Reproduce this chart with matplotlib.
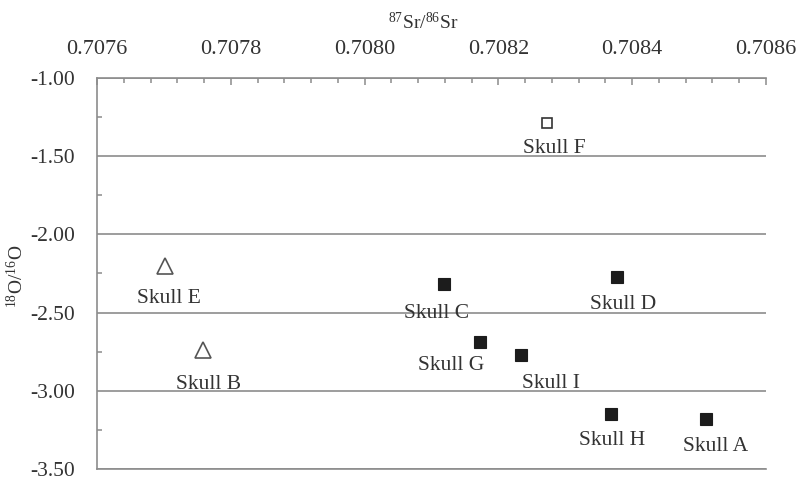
import matplotlib
matplotlib.use("Agg")
import matplotlib.pyplot as plt
from matplotlib.ticker import MultipleLocator, FuncFormatter

# --- data ---
skulls = ["Skull A", "Skull B", "Skull C", "Skull D", "Skull E",
          "Skull F", "Skull G", "Skull H", "Skull I"]
sr_ratio = [0.708510, 0.707759, 0.708118, 0.708378, 0.707701,
            0.708273, 0.708172, 0.708369, 0.708234]
o_ratio = [-3.18, -2.74, -2.32, -2.27, -2.20,
           -1.29, -2.69, -3.15, -2.77]
group = ["filled", "open_tri", "filled", "filled", "open_tri",
         "open_sq", "filled", "filled", "filled"]

# label offsets in pixels (dx, dy of baseline centre)
label_dx = [10, 5, -7, 6, 4, 7, -29, 1, 30]
label_dy = [-32, -39, -34, -32, -37, -30, -28, -31, -33]

plt.rcParams["font.family"] = "Liberation Serif"
plt.rcParams["mathtext.fontset"] = "custom"
plt.rcParams["mathtext.rm"] = "Liberation Serif"
plt.rcParams["mathtext.it"] = "Liberation Serif:italic"

TEXT = "#333333"
GRAY = "#8c8c8c"

fig = plt.figure(figsize=(7.99, 4.82), dpi=100)
W, H = 799, 482
left, right, top, bottom = 97, 766, 78, 469
ax = fig.add_axes([left / W, 1 - bottom / H, (right - left) / W, (bottom - top) / H])

styles = {
    "filled": dict(marker="s", ms=9.2, mfc="#1c1c1c", mec="#1c1c1c", mew=0.8),
    "open_sq": dict(marker="s", ms=7.6, mfc="white", mec="#333333", mew=1.2),
    "open_tri": dict(marker="^", ms=11, mfc="white", mec="#555555", mew=1.2),
}

for name, x, y, g, dx, dy in zip(skulls, sr_ratio, o_ratio, group, label_dx, label_dy):
    ax.plot([x], [y], linestyle="none", zorder=3, **styles[g])
    ax.annotate(name, (x, y), xytext=(dx, dy), textcoords="offset pixels",
                ha="center", va="baseline", fontsize=15.5, color=TEXT, zorder=4)

ax.set_xlim(0.7076, 0.7086)
ax.set_ylim(-3.5, -1.0)

ax.xaxis.tick_top()
ax.xaxis.set_major_locator(MultipleLocator(0.0002))
ax.xaxis.set_minor_locator(MultipleLocator(0.00004))
ax.xaxis.set_major_formatter(FuncFormatter(lambda v, p: f"{v:.4f}"))
ax.yaxis.set_major_locator(MultipleLocator(0.5))
ax.yaxis.set_minor_locator(MultipleLocator(0.25))
ax.yaxis.set_major_formatter(FuncFormatter(lambda v, p: f"{v:.2f}"))

ax.tick_params(axis="x", which="major", direction="in", length=5, width=1.1,
               color=GRAY, labelsize=16, labelcolor=TEXT, pad=14,
               top=True, bottom=False, labeltop=True, labelbottom=False)
ax.tick_params(axis="x", which="minor", direction="in", length=3.5, width=1.1,
               color=GRAY, top=True, bottom=False)
ax.tick_params(axis="y", which="major", direction="in", length=0,
               labelsize=15.5, labelcolor=TEXT, pad=16)
ax.tick_params(axis="y", which="minor", direction="in", length=3.5, width=1.1,
               color=GRAY)

ax.grid(axis="y", which="major", color=GRAY, linewidth=1.2)
ax.set_axisbelow(True)
for side in ["top", "left", "bottom"]:
    ax.spines[side].set_color(GRAY)
    ax.spines[side].set_linewidth(1.2)
ax.spines["right"].set_visible(False)

fig.text(423 / W, 1 - 22 / H, r"$^{87}$Sr/$^{86}$Sr", ha="center", va="center",
         fontsize=14, color=TEXT)
fig.text(16 / W, 1 - 276 / H, r"$^{18}$O/$^{16}$O", ha="center", va="center",
         fontsize=14, color=TEXT, rotation=90)

fig.savefig("out.png", dpi=100)
